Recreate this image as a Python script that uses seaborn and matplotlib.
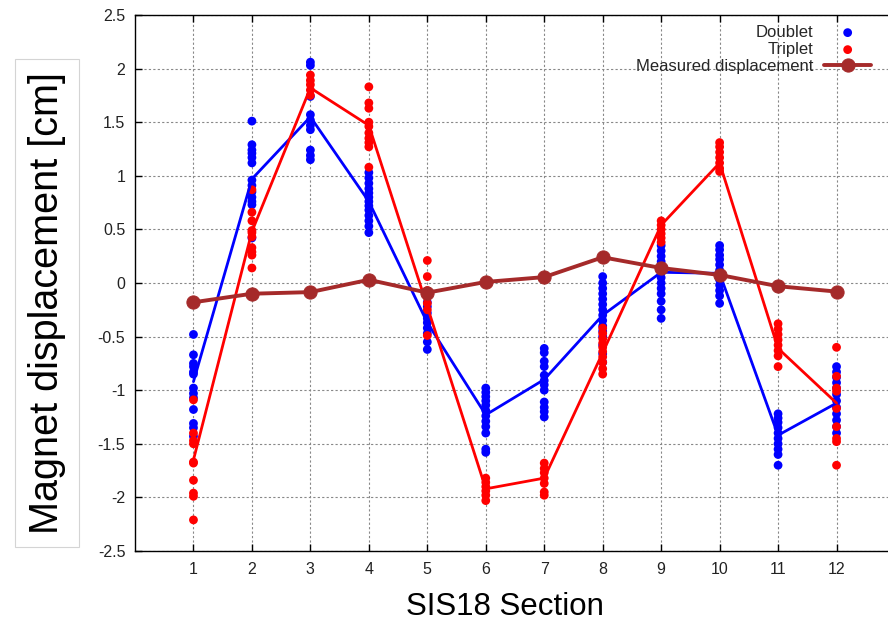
import numpy as np
import pandas as pd
import matplotlib
matplotlib.use("Agg")
import matplotlib.pyplot as plt
import seaborn as sns

sections = list(range(1, 13))

doublet_points = [
    [-0.48, -0.67, -0.75, -0.78, -0.83, -0.85, -0.98, -1.03, -1.07, -1.18, -1.31, -1.35, -1.43],
    [1.51, 1.29, 1.24, 1.21, 1.17, 1.12, 0.96, 0.91, 0.85, 0.80, 0.76, 0.73, 0.42],
    [2.06, 2.03, 1.74, 1.57, 1.52, 1.47, 1.43, 1.24, 1.19, 1.15],
    [1.03, 0.98, 0.93, 0.88, 0.84, 0.80, 0.76, 0.72, 0.68, 0.63, 0.58, 0.53, 0.47],
    [-0.18, -0.22, -0.28, -0.33, -0.37, -0.42, -0.47, -0.55, -0.62],
    [-0.98, -1.02, -1.06, -1.10, -1.14, -1.19, -1.24, -1.29, -1.34, -1.40, -1.55, -1.58],
    [-0.61, -0.65, -0.73, -0.78, -0.86, -0.91, -0.95, -1.00, -1.11, -1.16, -1.20, -1.25],
    [0.06, 0.0, -0.05, -0.10, -0.15, -0.20, -0.25, -0.30, -0.35, -0.40, -0.45, -0.50, -0.58, -0.66, -0.74],
    [0.35, 0.30, 0.25, 0.20, 0.15, 0.10, 0.05, 0.0, -0.05, -0.10, -0.17, -0.25, -0.33],
    [0.35, 0.31, 0.26, 0.22, 0.17, 0.12, 0.08, 0.03, -0.02, -0.07, -0.12, -0.19],
    [-1.22, -1.26, -1.30, -1.35, -1.40, -1.45, -1.50, -1.55, -1.60, -1.70],
    [-0.78, -0.83, -0.88, -0.93, -0.98, -1.04, -1.10, -1.16, -1.22, -1.28, -1.34, -1.40],
]

triplet_points = [
    [-1.09, -1.40, -1.47, -1.50, -1.67, -1.68, -1.84, -1.96, -1.99, -2.21],
    [0.87, 0.66, 0.58, 0.49, 0.47, 0.43, 0.33, 0.29, 0.26, 0.14],
    [1.94, 1.89, 1.85, 1.80, 1.75],
    [1.83, 1.68, 1.63, 1.50, 1.46, 1.40, 1.35, 1.31, 1.27, 1.08],
    [0.21, 0.06, -0.07, -0.13, -0.19, -0.25, -0.49],
    [-1.82, -1.86, -1.90, -1.94, -1.98, -2.03],
    [-1.68, -1.73, -1.77, -1.82, -1.87, -1.95, -1.98],
    [-0.42, -0.47, -0.52, -0.56, -0.60, -0.64, -0.69, -0.74, -0.80, -0.85],
    [0.58, 0.54, 0.50, 0.46, 0.42, 0.38],
    [1.31, 1.27, 1.22, 1.17, 1.12, 1.07, 1.04],
    [-0.38, -0.43, -0.48, -0.53, -0.58, -0.63, -0.68, -0.78],
    [-0.60, -0.87, -0.98, -1.01, -1.17, -1.34, -1.45, -1.48, -1.70],
]

doublet_line = [-0.92, 0.97, 1.55, 0.76, -0.37, -1.23, -0.90, -0.30, 0.10, 0.09, -1.42, -1.12]
triplet_line = [-1.65, 0.48, 1.82, 1.47, -0.22, -1.92, -1.82, -0.65, 0.54, 1.12, -0.61, -1.12]
measured = [-0.18, -0.10, -0.085, 0.03, -0.09, 0.01, 0.055, 0.24, 0.14, 0.075, -0.03, -0.08]

ytick_vals = [-2.5, -2, -1.5, -1, -0.5, 0, 0.5, 1, 1.5, 2, 2.5]


def to_long(points):
    rows = []
    for sec, vals in zip(sections, points):
        for v in vals:
            rows.append((sec, v))
    return pd.DataFrame(rows, columns=["section", "value"])


df_d = to_long(doublet_points)
df_t = to_long(triplet_points)

sns.set_style("white")
plt.rcParams["font.family"] = ["Liberation Sans", "DejaVu Sans"]
plt.rcParams["axes.unicode_minus"] = False

BLUE = "#0000ff"
RED = "#ff0000"
BROWN = "#a52a2a"

fig = plt.figure(figsize=(8.88, 6.23), dpi=100)
ax = fig.add_axes([135 / 888, 72 / 623, 760 / 888, 536 / 623])

sns.scatterplot(data=df_d, x="section", y="value", color=BLUE, s=40,
                edgecolor="none", ax=ax, label="Doublet", zorder=3)
sns.scatterplot(data=df_t, x="section", y="value", color=RED, s=40,
                edgecolor="none", ax=ax, label="Triplet", zorder=3)
sns.lineplot(x=sections, y=doublet_line, color=BLUE, lw=2, ax=ax,
             legend=False, zorder=4, sort=False)
sns.lineplot(x=sections, y=triplet_line, color=RED, lw=2, ax=ax,
             legend=False, zorder=4, sort=False)
sns.lineplot(x=sections, y=measured, color=BROWN, lw=2.8, marker="o",
             markersize=9.5, markeredgecolor=BROWN, ax=ax,
             label="Measured displacement", zorder=5, sort=False)

ax.set_xlim(0, 13)
ax.set_ylim(-2.5, 2.5)
ax.set_xticks(sections)
ax.set_xticklabels([str(s) for s in sections])
ax.set_yticks(ytick_vals)
ax.set_yticklabels(["%g" % v for v in ytick_vals])
ax.grid(True, ls=(0, (2, 2)), color="#888888", lw=0.8)
ax.set_axisbelow(True)
for sp in ax.spines.values():
    sp.set_color("black")
    sp.set_linewidth(1.0)
    sp.set_visible(True)
ax.tick_params(axis="both", direction="in", length=5, width=1, colors="black",
               labelcolor="#222222", labelsize=11.5, top=True, right=True,
               bottom=True, left=True)
ax.tick_params(axis="y", pad=7)
ax.tick_params(axis="x", pad=8)

ax.set_ylabel("Magnet displacement [cm]", fontsize=28.5, color="black",
              bbox=dict(boxstyle="square,pad=0.32", fc="white", ec="#d4d4d4", lw=0.8))
ax.yaxis.set_label_coords(47 / 888, 1 - 303 / 623, transform=fig.transFigure)
ax.yaxis.label.set_va("center")
ax.set_xlabel("SIS18 Section", fontsize=22.5, color="black")
ax.xaxis.set_label_coords(505 / 888, 1 - 607 / 623, transform=fig.transFigure)
ax.xaxis.label.set_va("center")

handles, labels = ax.get_legend_handles_labels()
ax.legend(handles, labels, loc="upper right",
          bbox_to_anchor=(871 / 888, 1 - 25 / 623), bbox_transform=fig.transFigure,
          frameon=False, markerfirst=False, fontsize=12, handlelength=2.8,
          handletextpad=0.65, labelspacing=0.12, borderpad=0, borderaxespad=0)

fig.savefig("out.png", dpi=100)
